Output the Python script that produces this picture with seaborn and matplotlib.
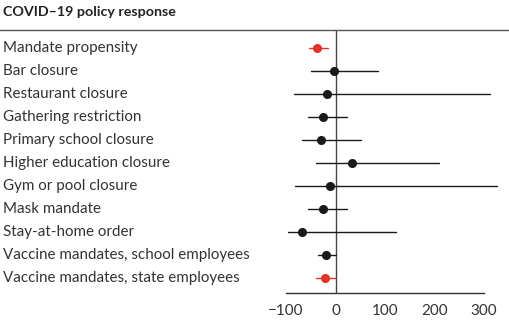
import matplotlib
matplotlib.use("Agg")
import matplotlib.pyplot as plt
import matplotlib.transforms as mtransforms
import seaborn as sns
import pandas as pd

categories = [
    "Mandate propensity",
    "Bar closure",
    "Restaurant closure",
    "Gathering restriction",
    "Primary school closure",
    "Higher education closure",
    "Gym or pool closure",
    "Mask mandate",
    "Stay-at-home order",
    "Vaccine mandates, school employees",
    "Vaccine mandates, state employees",
]
estimate = [-37, -4, -18, -26, -30, 34, -11, -25, -68, -19, -22]
ci_low = [-53, -49, -84, -56, -68, -40, -82, -55, -97, -35, -39]
ci_high = [-15, 85, 312, 23, 52, 210, 327, 23, 122, 1, 1]
highlight = [True, False, False, False, False, False, False, False, False, False, True]
xticks = [-100, 0, 100, 200, 300]

rows = []
for c, e, lo, hi, h in zip(categories, estimate, ci_low, ci_high, highlight):
    g = "red" if h else "black"
    for v in (lo, e, hi):
        rows.append({"policy": c, "value": v, "group": g})
df = pd.DataFrame(rows)

sns.set_style("white")
plt.rcParams["font.family"] = ["Lato", "DejaVu Sans"]

fig = plt.figure(figsize=(5.09, 3.24), dpi=100)
W, H = 509, 324
ax = fig.add_axes([0, 1 - 293 / H, 1, (293 - 30) / H])

sns.pointplot(
    data=df, x="value", y="policy", hue="group", order=categories,
    palette={"black": "#1a1a1a", "red": "#e0342b"},
    estimator="median", errorbar=("pi", 100), linestyle="none",
    markersize=4.5, err_kws={"linewidth": 1.0},
    orient="h", legend=False, ax=ax, dodge=False,
)

ax.set_xlim(-678, 350.5)
ax.set_ylim(10.65, -0.77)
ax.set_xlabel("")
ax.set_ylabel("")
ax.set_yticks([])
ax.set_xticks(xticks)
ax.set_xticklabels(["\u2212100", "0", "100", "200", "300"], fontsize=11, color="#333333")
ax.tick_params(axis="x", length=6, width=1.0, color="#333333", direction="out", pad=2)

for s in ("left", "right"):
    ax.spines[s].set_visible(False)
ax.spines["top"].set_color("#555555")
ax.spines["top"].set_linewidth(1.0)
ax.spines["bottom"].set_color("#333333")
ax.spines["bottom"].set_linewidth(1.0)
ax.spines["bottom"].set_bounds(-100, 300)
ax.axvline(0, color="#444444", linewidth=1.0, zorder=1)

trans = mtransforms.blended_transform_factory(fig.transFigure, ax.transData)
for i, c in enumerate(categories):
    ax.text(3 / W, i, c, transform=trans, ha="left", va="center",
            fontsize=10.9, color="#333333")

fig.text(3 / W, 1 - 12 / H, "COVID\u201319 policy response", ha="left", va="center",
         fontsize=10.3, fontweight="bold", color="#222222")

fig.savefig("out.png", dpi=100)
